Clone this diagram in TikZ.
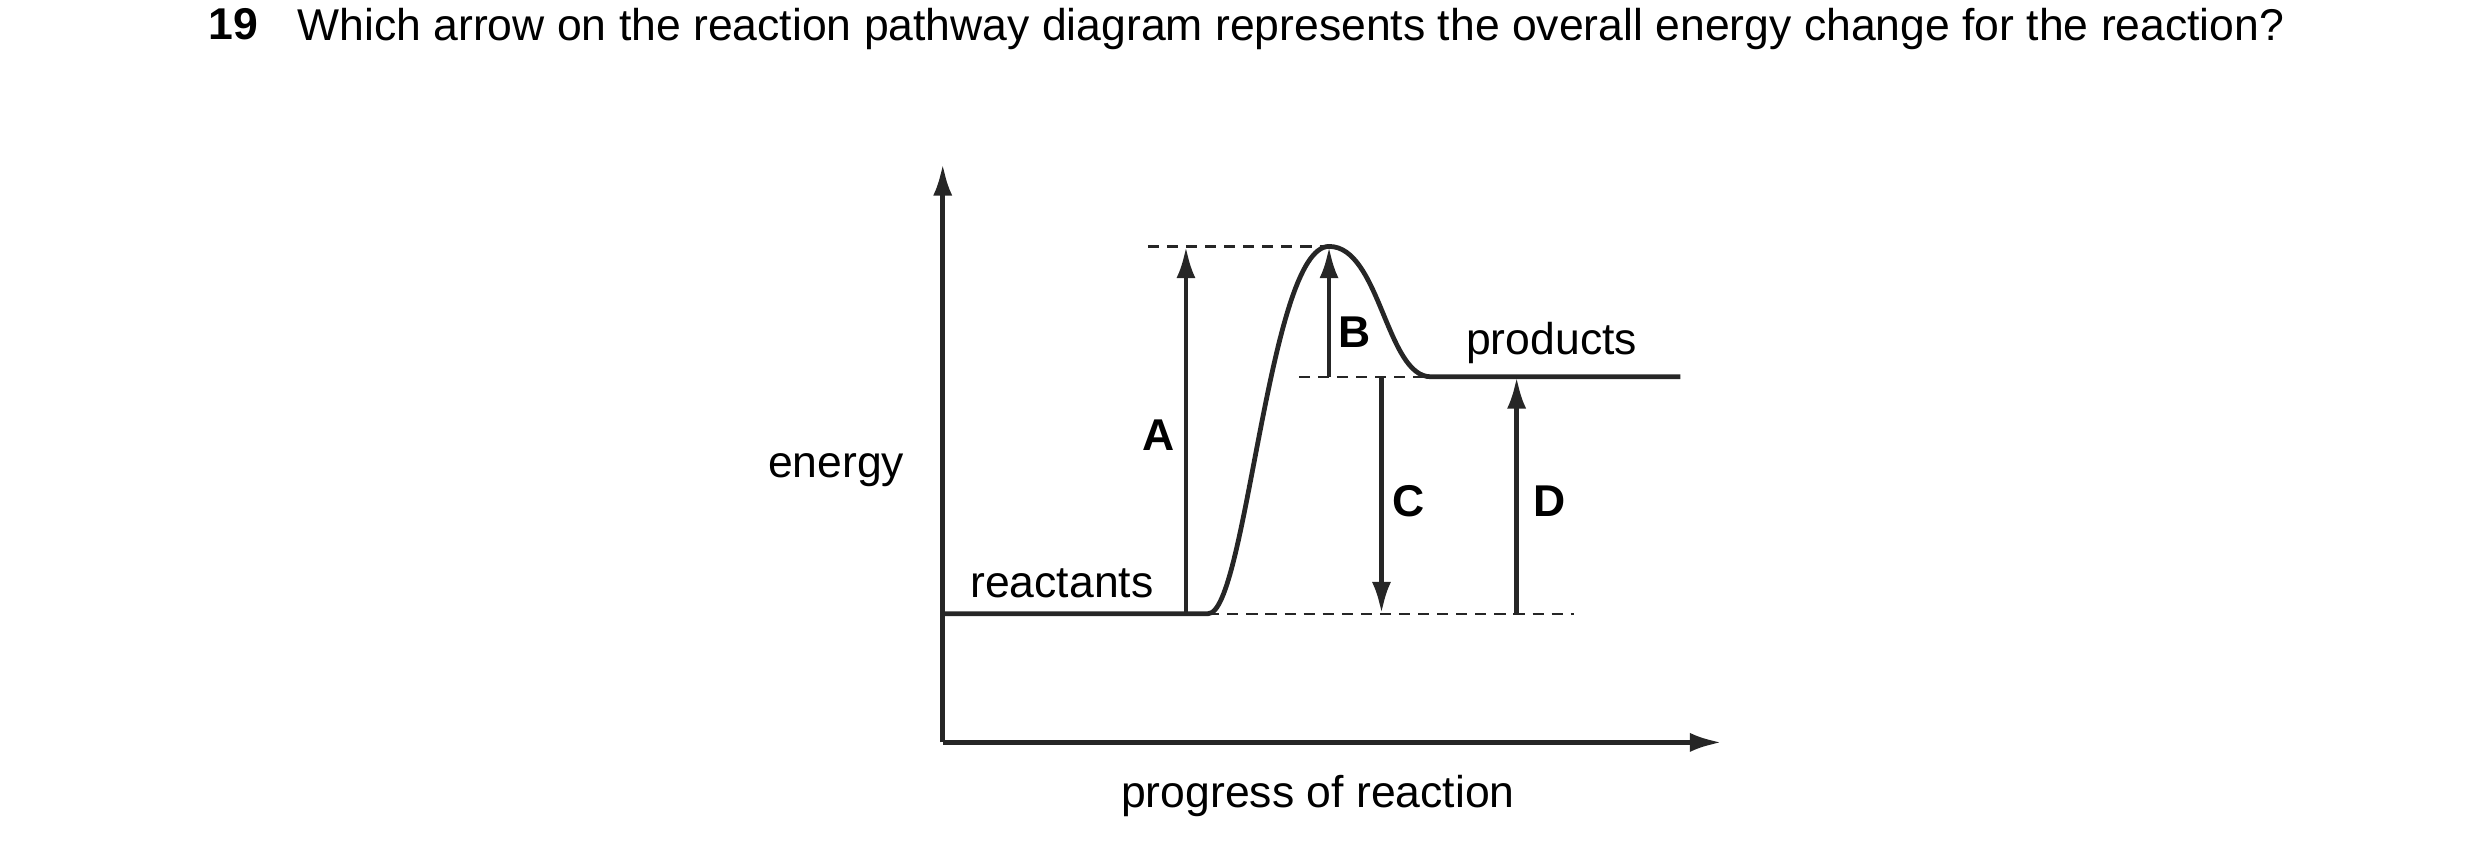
\documentclass[tikz,border=0pt]{standalone}
\usepackage{fontspec}
\setmainfont{Liberation Sans}
\usetikzlibrary{arrows.meta}
\begin{document}
\begin{tikzpicture}[x=1pt,y=-1pt,
  ln/.style={line width=3pt,draw=black!85},
  ar/.style={ln,-{Latex[length=20pt,width=12pt]}},
  da/.style={line width=1.4pt,dash pattern=on 7pt off 5pt,draw=black!85},
  lab/.style={font=\fontsize{28}{32}\selectfont,inner sep=0pt},
  blab/.style={font=\fontsize{28}{32}\selectfont\bfseries,inner sep=0pt}]
\useasboundingbox (0,0) rectangle (1560,540);
\node[lab,anchor=north west] (num) at (131,5) {\textbf{19}};
\node[lab,anchor=north west,text width=1250pt,align=justify] (q) at (187,5)
 {Which arrow on the reaction pathway diagram represents the overall energy change for the reaction?};
\coordinate (o) at (593,467);
\coordinate (yt) at (593,103);
\coordinate (xt) at (1083,467);
\draw[ar] (o) -- (yt);
\draw[ar] (o) -- (xt);
\coordinate (r0) at (593,386);
\coordinate (r1) at (760,386);
\coordinate (pk) at (836,155);
\coordinate (p0) at (900,237);
\coordinate (p1) at (1057,237);
\draw[ln] (r0) -- (r1) .. controls (784,386) and (798,155) .. (pk)
  .. controls (868,155) and (872,237) .. (p0) -- (p1);
\coordinate (d1) at (722,155);
\coordinate (d2) at (817,237);
\coordinate (d3) at (990,386);
\draw[da] (d1) -- (pk);
\draw[da] (d2) -- (p0);
\draw[da] (r1) -- (d3);
\coordinate (a0) at (746,386); \coordinate (a1) at (746,155);
\coordinate (b0) at (836,237); \coordinate (b1) at (836,155);
\coordinate (c0) at (869,237); \coordinate (c1) at (869,386);
\coordinate (e0) at (954,386); \coordinate (e1) at (954,237);
\draw[ar] (a0) -- (a1);
\draw[ar] (b0) -- (b1);
\draw[ar] (c0) -- (c1);
\draw[ar] (e0) -- (e1);
\node[blab] (A) at (729,274) {A};
\node[blab] (B) at (852,209) {B};
\node[blab] (C) at (886,315) {C};
\node[blab] (D) at (975,315) {D};
\node[lab] (prod) at (976,216) {products};
\node[lab] (reac) at (668,367) {reactants};
\node[lab] (en) at (526,296) {energy};
\node[lab] (prog) at (829,501) {progress of reaction};
\end{tikzpicture}
\end{document}
